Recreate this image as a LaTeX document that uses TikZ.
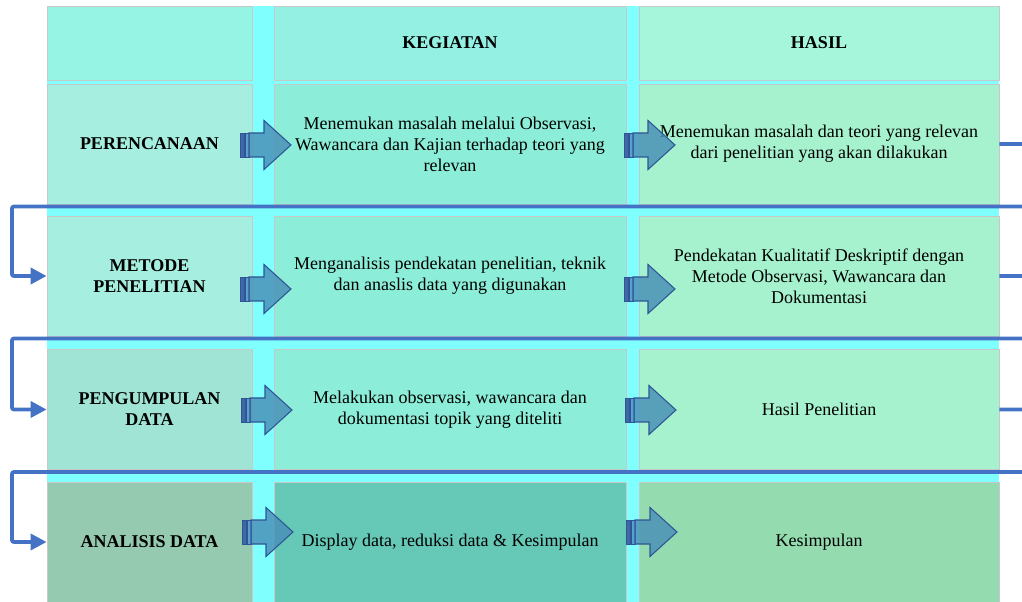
\documentclass[tikz,border=0pt]{standalone}
\usepackage{fontspec}
\setmainfont{Liberation Serif}[BoldFont={Liberation Serif Bold}]
\usetikzlibrary{arrows.meta}

\definecolor{gapcyan}{RGB}{128,255,255}
\definecolor{cellline}{RGB}{200,200,200}
\definecolor{headA}{RGB}{150,244,228}
\definecolor{headB}{RGB}{148,240,226}
\definecolor{headC}{RGB}{166,246,220}
\definecolor{rowA}{RGB}{166,238,224}
\definecolor{rowB}{RGB}{140,238,216}
\definecolor{rowC}{RGB}{166,242,206}
\definecolor{rowAthree}{RGB}{160,228,214}
\definecolor{lastA}{RGB}{150,202,176}
\definecolor{lastB}{RGB}{102,200,182}
\definecolor{lastC}{RGB}{148,220,176}
\definecolor{linkblue}{RGB}{68,114,196}
\definecolor{arrowline}{RGB}{47,85,151}
\definecolor{arrowfill}{RGB}{72,142,182}
\definecolor{stripedark}{RGB}{62,105,165}
\definecolor{stripelight}{RGB}{90,160,205}

\tikzset{
  cell/.style={draw=cellline, line width=0.6pt, inner sep=0pt, align=center,
    font=\fontsize{13.5}{15.75}\selectfont},
  head/.style={cell, font=\fontsize{13.5}{15.75}\selectfont\bfseries},
  colA/.style={minimum width=205*0.75pt},
  colB/.style={minimum width=352*0.75pt},
  colC/.style={minimum width=360*0.75pt},
  tall/.style={minimum height=120*0.75pt},
  link/.style={draw=linkblue, line width=2.8pt, rounded corners=1.5pt,
    -{Triangle[length=12pt,width=12pt]}},
  bigarrow/.style={draw=arrowline, line width=0.8pt, fill=arrowfill, fill opacity=0.82},
  stripe/.style={draw=arrowline, line width=0.6pt}
}

\begin{document}
\begin{tikzpicture}[x=0.75pt,y=-0.75pt]

  \useasboundingbox (0,0) rectangle (1022,602);
  \clip (0,0) rectangle (1022,602);

  \fill[gapcyan] (47,6) rectangle (999,610);

  % header
  \node[cell, colA, minimum height=74*0.75pt, fill=headA] (h1) at (149.5,43) {};
  \node[head, colB, minimum height=74*0.75pt, fill=headB] (h2) at (450,43) {KEGIATAN};
  \node[head, colC, minimum height=74*0.75pt, fill=headC] (h3) at (819,43) {HASIL};

  % row 1
  \node[head, colA, tall, fill=rowA] (r1c1) at (149.5,144) {PERENCANAAN};
  \node[cell, colB, tall, fill=rowB] (r1c2) at (450,144)
    {Menemukan masalah melalui Observasi,\\Wawancara dan Kajian terhadap teori yang\\relevan};
  \node[cell, colC, tall, fill=rowC] (r1c3) at (819,144)
    {Menemukan masalah dan teori yang relevan\\dari penelitian yang akan dilakukan};

  % row 2
  \node[head, colA, tall, fill=rowA] (r2c1) at (149.5,276) {METODE\\PENELITIAN};
  \node[cell, colB, tall, fill=rowB] (r2c2) at (450,276)
    {Menganalisis pendekatan penelitian, teknik\\dan anaslis data yang digunakan};
  \node[cell, colC, tall, fill=rowC] (r2c3) at (819,276)
    {Pendekatan Kualitatif Deskriptif dengan\\Metode Observasi, Wawancara dan\\Dokumentasi};

  % row 3
  \node[head, colA, tall, fill=rowAthree] (r3c1) at (149.5,409.5) {PENGUMPULAN\\DATA};
  \node[cell, colB, tall, fill=rowB] (r3c2) at (450,409.5)
    {Melakukan observasi, wawancara dan\\dokumentasi topik yang diteliti};
  \node[cell, colC, tall, fill=rowC] (r3c3) at (819,409.5) {Hasil Penelitian};

  % row 4
  \node[head, colA, tall, fill=lastA] (r4c1) at (149.5,542) {ANALISIS DATA};
  \node[cell, colB, tall, fill=lastB] (r4c2) at (450,542)
    {Display data, reduksi data \& Kesimpulan};
  \node[cell, colC, tall, fill=lastC] (r4c3) at (819,542) {Kesimpulan};

  % block arrows between the columns
  \foreach \ax/\ay in {240/145, 240/289, 241/410, 242/532,
                       624/145, 624/289, 625/410, 626/532} {
    \draw[stripe, fill=stripedark] (\ax,\ay-12) rectangle ++(4,24);
    \draw[stripe, fill=stripelight] (\ax+5,\ay-12) rectangle ++(4,24);
    \draw[bigarrow] (\ax+9,\ay-12) -- (\ax+24,\ay-12) -- (\ax+24,\ay-24.5)
      -- (\ax+51,\ay) -- (\ax+24,\ay+24.5) -- (\ax+24,\ay+12)
      -- (\ax+9,\ay+12) -- cycle;
  }

  % links from one row to the next
  \coordinate (g1) at (12,206.5);
  \coordinate (g2) at (12,338.5);
  \coordinate (g3) at (12,472);

  \draw[link] (r1c3.east) -- ++(40,0) |- (g1) |- (r2c1.west);
  \draw[link] (r2c3.east) -- ++(40,0) |- (g2) |- (r3c1.west);
  \draw[link] (r3c3.east) -- ++(40,0) |- (g3) |- (r4c1.west);

\end{tikzpicture}
\end{document}
